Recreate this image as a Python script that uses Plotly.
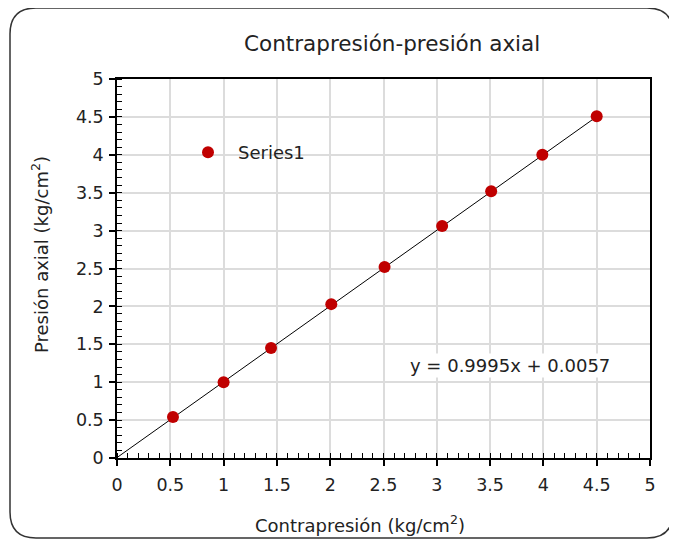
import plotly.graph_objects as go
import numpy as np

contrapresion = [0.525, 1.0, 1.445, 2.01, 2.51, 3.05, 3.51, 3.99, 4.50]
presion_axial = [0.54, 1.0, 1.45, 2.03, 2.52, 3.06, 3.52, 4.0, 4.51]
slope = 0.9995
intercept = 0.0057
trend_x = [0.0, 4.5]
tick_vals = [0, 0.5, 1, 1.5, 2, 2.5, 3, 3.5, 4, 4.5, 5]
tick_text = ["0", "0.5", "1", "1.5", "2", "2.5", "3", "3.5", "4", "4.5", "5"]

OFF = 8  # page body margin
W, H = 677 - OFF, 541 - OFF
L, R, T, B = 117 - OFF, 650 - OFF, 79 - OFF, 458 - OFF
FONT = "DejaVu Sans"
TXT = "#222"

def px(x):
    return (x - OFF - L) / (R - L)

def py(y):
    return (B - (y - OFF)) / (B - T)

fig = go.Figure()
tx = np.array(trend_x)
fig.add_trace(go.Scatter(x=tx, y=slope * tx + intercept, mode="lines",
                         line=dict(color="black", width=1), showlegend=False,
                         hoverinfo="skip"))
fig.add_trace(go.Scatter(x=contrapresion, y=presion_axial, mode="markers",
                         name="Series1",
                         marker=dict(color="#c00000", size=12)))

axis_common = dict(
    range=[0, 5], tickvals=tick_vals, ticktext=tick_text,
    showgrid=True, gridcolor="#dcdcdc", gridwidth=1.5,
    zeroline=False, showline=True, linecolor="black", linewidth=1.5,
    mirror=True, ticks="outside", ticklen=6, tickcolor="black", tickwidth=1.5,
    tickfont=dict(family=FONT, size=17.5, color=TXT),
    minor=dict(dtick=0.1, ticks="inside", ticklen=5, tickcolor="black",
               tickwidth=1, showgrid=False),
)
fig.update_xaxes(**axis_common, ticklabelstandoff=4)
fig.update_yaxes(**axis_common, ticklabelstandoff=2)

# Rounded border
x0, x1, y0, y1, r = 10, 673, 8, 538, 26
path = (f"M {px(x0+r)},{py(y0)} L {px(x1-r)},{py(y0)} "
        f"Q {px(x1)},{py(y0)} {px(x1)},{py(y0+r)} "
        f"L {px(x1)},{py(y1-r)} Q {px(x1)},{py(y1)} {px(x1-r)},{py(y1)} "
        f"L {px(x0+r)},{py(y1)} Q {px(x0)},{py(y1)} {px(x0)},{py(y1-r)} "
        f"L {px(x0)},{py(y0+r)} Q {px(x0)},{py(y0)} {px(x0+r)},{py(y0)} Z")
fig.add_shape(type="path", path=path, xref="paper", yref="paper",
              line=dict(color="#333", width=1.5), layer="above")

# white legend backdrop
fig.add_shape(type="rect", xref="paper", yref="paper",
              x0=px(147), x1=px(337), y0=py(164), y1=py(132),
              fillcolor="white", line=dict(width=0), layer="between")

center = dict(xanchor="center", yanchor="middle", showarrow=False,
              xref="paper", yref="paper")
fig.add_annotation(text="Contrapresión-presión axial", x=px(392), y=py(44),
                   font=dict(family=FONT, size=21.5, color=TXT), **center)
fig.add_annotation(text="Contrapresión (kg/cm<sup>2</sup>)", x=px(360), y=py(524),
                   font=dict(family=FONT, size=18, color=TXT), **center)
fig.add_annotation(text="Presión axial (kg/cm<sup>2</sup>)", x=px(40), y=py(255),
                   textangle=-90, font=dict(family=FONT, size=18, color=TXT), **center)
fig.add_annotation(text=f"y = {slope}x + {intercept}", x=px(510), y=py(365),
                   bgcolor="white", font=dict(family=FONT, size=18, color=TXT), **center)

fig.update_layout(
    width=W, height=H,
    margin=dict(l=L, r=W - R, t=T, b=H - B),
    paper_bgcolor="white", plot_bgcolor="white",
    showlegend=True,
    legend=dict(x=px(178), y=py(134), xanchor="left", yanchor="top",
                bgcolor="rgba(255,255,255,0)", font=dict(family=FONT, size=18, color=TXT),
                itemwidth=50),
)

fig.write_html("out.html")
